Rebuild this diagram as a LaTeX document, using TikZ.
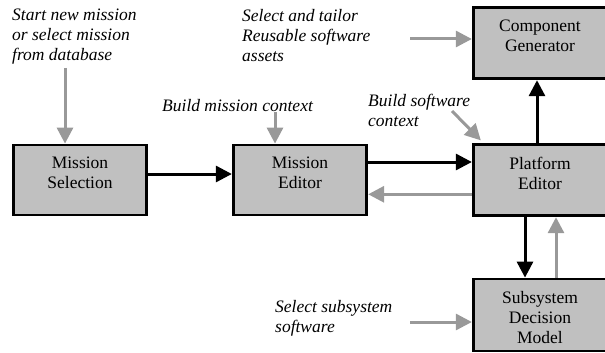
\documentclass[tikz,border=0pt]{standalone}
\usepackage{fontspec}
\setmainfont{Liberation Serif}
\usetikzlibrary{arrows.meta}
\definecolor{boxgray}{RGB}{192,192,192}
\definecolor{flowgray}{RGB}{153,153,153}
\begin{document}
\begin{tikzpicture}[x=1pt,y=-1pt,
  block/.style={draw=black, line width=2.8pt, fill=boxgray,
    minimum width=133.5pt, minimum height=70pt, inner sep=0pt},
  blocktext/.style={align=center, inner sep=0pt,
    font=\fontsize{17.5}{20}\selectfont},
  note/.style={align=left, inner sep=0pt, anchor=north west,
    font=\fontsize{17.5}{20}\selectfont\itshape},
  mainflow/.style={draw=black, line width=3pt,
    -{Triangle[length=16pt,width=16pt]}},
  feed/.style={draw=flowgray, line width=3pt,
    -{Triangle[length=16pt,width=16pt]}},
]
\useasboundingbox (0,0) rectangle (605,353);
\clip (0,0) rectangle (605,353);

% process blocks
\node[block] (ms) at (80,180) {};
\node[block] (me) at (300,180) {};
\node[block, minimum height=71pt] (pe) at (540,180.3) {};
\node[block, minimum height=71pt] (cg) at (540,43.3) {};
\node[block, minimum height=72pt] (sd) at (540,315) {};

% block captions
\node[blocktext] (mst) at (80,173) {Mission\\Selection};
\node[blocktext] (met) at (300,173) {Mission\\Editor};
\node[blocktext] (pet) at (540,173) {Platform\\Editor};
\node[blocktext] (cgt) at (540,36) {Component\\Generator};
\node[blocktext] (sdt) at (540,318) {Subsystem\\Decision\\Model};

% annotations
\node[note] (n1) at (12,9) {Start new mission\\or select mission\\from database};
\node[note] (n2) at (242,9) {Select and tailor\\Reusable software\\assets};
\node[note] (n3) at (162,99) {Build mission context};
\node[note] (n4) at (368,94) {Build software\\context};
\node[note] (n5) at (275,300) {Select subsystem\\software};

% main flow between blocks
\draw[mainflow] ([yshift=6pt]ms.east) -- ([yshift=6pt]me.west);
\draw[mainflow] ([yshift=18pt]me.east) -- ([yshift=18pt]pe.west |- me.east);
\draw[feed] ([yshift=-14pt]pe.west) -- ([yshift=-14pt]me.east |- pe.west);
\draw[mainflow] ([xshift=-3pt]pe.north) -- ([xshift=-3pt]cg.south);
\draw[mainflow] ([xshift=-15pt]pe.south) -- ([xshift=-15pt]sd.north);
\draw[feed] ([xshift=16pt]sd.north) -- ([xshift=16pt]pe.south);

% external inputs
\coordinate (in1) at (65,68);
\coordinate (in2) at (275,112);
\coordinate (in3) at (410,39);
\coordinate (in4) at (452,111);
\coordinate (in5) at (410,322);
\draw[feed] (in1) -- (in1 |- ms.north);
\draw[feed] (in2) -- (in2 |- me.north);
\draw[feed] (in3) -- (in3 -| cg.west);
\draw[feed] (in4) -- ([xshift=9pt,yshift=3pt]pe.north west);
\draw[feed] (in5) -- (in5 -| sd.west);
\end{tikzpicture}
\end{document}
